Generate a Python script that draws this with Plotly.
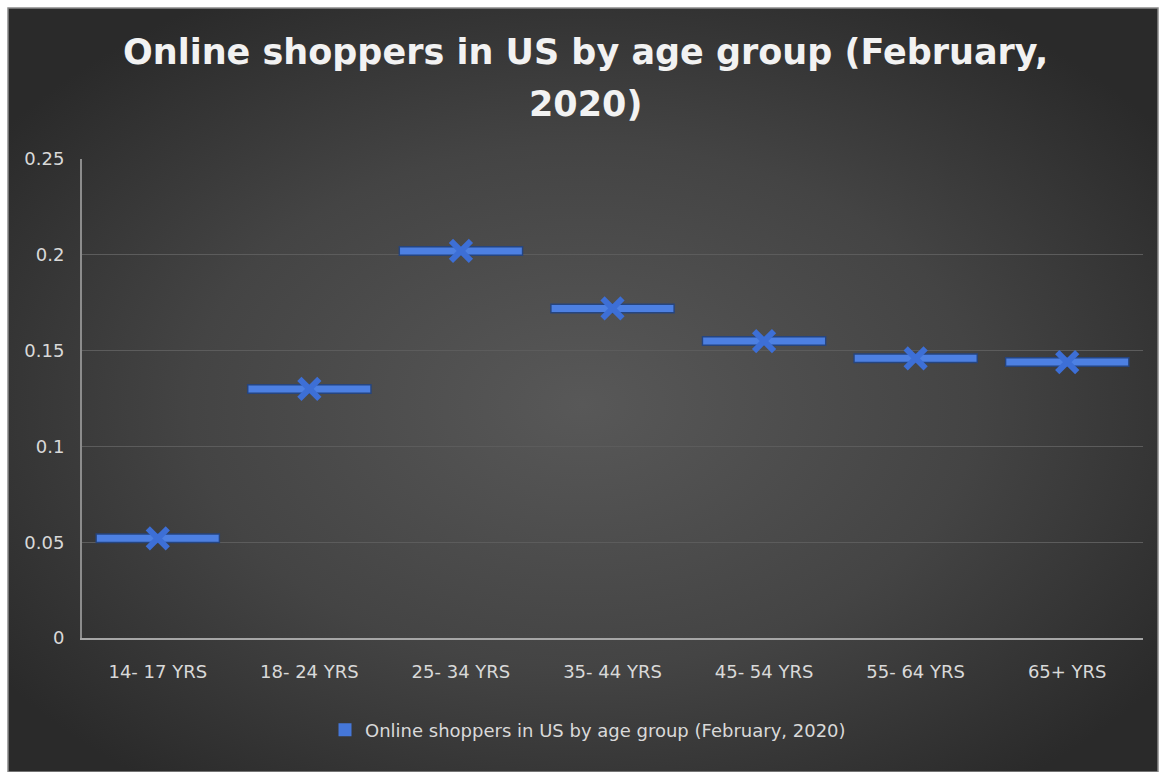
import base64
import plotly.graph_objects as go

# Share of US online shoppers by age group, February 2020
age_groups = ["14- 17 YRS", "18- 24 YRS", "25- 34 YRS", "35- 44 YRS",
              "45- 54 YRS", "55- 64 YRS", "65+ YRS"]
share = [0.052, 0.130, 0.202, 0.172, 0.155, 0.146, 0.144]
y_ticks = [0, 0.05, 0.1, 0.15, 0.2, 0.25]
y_tick_text = ["0", "0.05", "0.1", "0.15", "0.2", "0.25"]
series_name = "Online shoppers in US by age group (February, 2020)"
title_lines = ["Online shoppers in US by age group (February,", "2020)"]

W, H = 1160, 772
L, R, T, B = 82, 17, 159, 134
plot_w, plot_h = W - L - R, H - T - B

# frame of the chart area in pixels
fx0, fy0, fx1, fy1 = 8, 8, 1158, 772


def px_to_paper_x(px):
    return (px - L) / plot_w


def px_to_paper_y(py):
    return (H - B - py) / plot_h


# radial gradient backdrop as an inline SVG
svg = f"""<svg xmlns='http://www.w3.org/2000/svg' width='{fx1 - fx0}' height='{fy1 - fy0}' preserveAspectRatio='none'>
<defs><radialGradient id='g' cx='50%' cy='52%' r='62%'>
<stop offset='0%' stop-color='#585858'/>
<stop offset='55%' stop-color='#444444'/>
<stop offset='100%' stop-color='#2a2a2a'/>
</radialGradient></defs>
<rect width='100%' height='100%' fill='url(#g)'/></svg>"""
bg_src = "data:image/svg+xml;base64," + base64.b64encode(svg.encode()).decode()

dash_dark = "#26457f"
dash_color = "#4d80e2"
x_color = "#3d6fd6"
text_color = "#d9d9d9"
font_family = "DejaVu Sans"

fig = go.Figure()

# dark underlay for each horizontal dash
fig.add_trace(go.Scatter(
    x=age_groups, y=share, mode="markers", showlegend=False, hoverinfo="skip",
    marker=dict(symbol="line-ew", size=89, line=dict(width=10, color=dash_dark)),
))
# horizontal dash marker
fig.add_trace(go.Scatter(
    x=age_groups, y=share, mode="markers", showlegend=False,
    marker=dict(symbol="line-ew", size=87, line=dict(width=7, color=dash_color)),
))
# cross marker at each value
fig.add_trace(go.Scatter(
    x=age_groups, y=share, mode="markers", showlegend=False,
    marker=dict(symbol="x-thin", size=20, line=dict(width=6, color=x_color)),
))
# legend entry with a square swatch
fig.add_trace(go.Scatter(
    x=[None], y=[None], mode="markers", name=series_name,
    marker=dict(symbol="square", size=13, color="#4577d9"),
))

# two-line heading with wider line spacing than the built-in title allows
annotations = []
for line, cy in zip(title_lines, [52, 104]):
    annotations.append(dict(
        text=line, xref="paper", yref="paper",
        x=px_to_paper_x(585), y=px_to_paper_y(cy),
        xanchor="center", yanchor="middle", showarrow=False,
        font=dict(family=font_family, size=35, color="#f2f2f2", weight="bold"),
    ))

fig.update_layout(
    width=W, height=H,
    margin=dict(l=L, r=R, t=T, b=B),
    paper_bgcolor="white",
    plot_bgcolor="rgba(0,0,0,0)",
    font=dict(family=font_family, color=text_color, size=18),
    annotations=annotations,
    showlegend=True,
    legend=dict(
        orientation="h", x=px_to_paper_x(588), xanchor="center",
        y=px_to_paper_y(730), yanchor="middle",
        font=dict(size=18, color=text_color), bgcolor="rgba(0,0,0,0)",
    ),
    images=[dict(
        source=bg_src, xref="paper", yref="paper",
        x=px_to_paper_x(fx0), y=px_to_paper_y(fy0),
        sizex=px_to_paper_x(fx1) - px_to_paper_x(fx0),
        sizey=px_to_paper_y(fy0) - px_to_paper_y(fy1),
        xanchor="left", yanchor="top", sizing="stretch", layer="below",
    )],
    shapes=[dict(
        type="rect", xref="paper", yref="paper",
        x0=px_to_paper_x(fx0), x1=px_to_paper_x(fx1),
        y0=px_to_paper_y(fy1), y1=px_to_paper_y(fy0),
        line=dict(color="#8a8a8a", width=1.5), layer="below",
    )],
)

fig.update_xaxes(
    type="category", range=[-0.5, len(age_groups) - 0.5],
    showgrid=False, showline=True, linecolor="#a6a6a6", linewidth=2,
    ticks="", tickfont=dict(size=18, color=text_color), ticklabelstandoff=16,
)
fig.update_yaxes(
    range=[0, 0.25], tickvals=y_ticks, ticktext=y_tick_text,
    showgrid=True, gridcolor="#5c5c5c", gridwidth=1,
    showline=True, linecolor="#8c8c8c", linewidth=2, zeroline=False,
    tickfont=dict(size=18, color=text_color), ticklabelstandoff=12,
)

fig.write_html("out.html")
